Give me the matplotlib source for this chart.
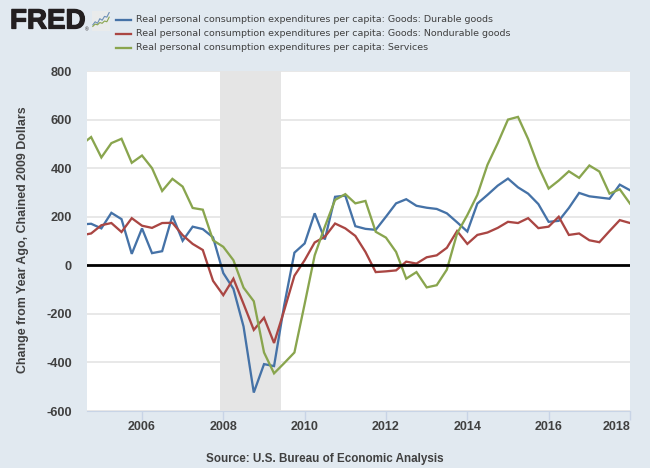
import matplotlib
matplotlib.use("Agg")
import matplotlib.pyplot as plt
import matplotlib.patheffects as pe
import pandas as pd

dates = pd.date_range("2004-07-01", periods=55, freq="QS")
durable = [168, 171, 152, 216, 190, 47, 152, 50, 58, 204, 101, 159, 149, 115, -32, -97, -252, -524, -407, -415,
           -165, 52, 90, 214, 106, 282, 287, 161, 150, 146, 200, 255, 272, 245, 237, 232, 214, 177, 139, 254,
           290, 328, 357, 321, 295, 252, 179, 183, 236, 298, 284, 279, 274, 332, 309]
nondurable = [123, 131, 165, 174, 137, 194, 163, 154, 174, 175, 124, 88, 63, -64, -123, -55, -159, -266, -216, -320,
              -186, -43, 21, 94, 117, 172, 152, 121, 55, -28, -25, -21, 15, 7, 33, 41, 72, 141, 88, 125,
              135, 154, 179, 174, 194, 153, 159, 200, 125, 131, 103, 95, 141, 186, 174]
services = [495, 528, 444, 503, 521, 422, 452, 400, 306, 356, 324, 236, 229, 103, 76, 21, -92, -148, -359, -445,
            -403, -359, -159, 41, 159, 269, 293, 255, 265, 138, 114, 55, -55, -28, -91, -82, -18, 131, 207, 290,
            414, 503, 600, 611, 520, 407, 316, 349, 387, 360, 411, 386, 295, 313, 254]
series_names = ["Real personal consumption expenditures per capita: Goods: Durable goods",
                "Real personal consumption expenditures per capita: Goods: Nondurable goods",
                "Real personal consumption expenditures per capita: Services"]
series_colors = ["#4572a7", "#aa4643", "#89a54e"]
y_ticks = [-600, -400, -200, 0, 200, 400, 600, 800]
x_years = [2006, 2008, 2010, 2012, 2014, 2016, 2018]
rec_start, rec_end = "2007-12-01", "2009-06-01"
icon_a = [1, 3, 2, 5, 4, 6.5, 6, 9]
icon_b = [0, 1.5, 1, 2.5, 2, 3.5, 3, 6]

W, H = 650, 468
BG = "#e1e9f0"
TXT = "#404040"
plt.rcParams["font.family"] = ["Liberation Sans", "DejaVu Sans"]
fig = plt.figure(figsize=(W / 100, H / 100), dpi=100, facecolor=BG)
ax = fig.add_axes([87 / W, 1 - 411 / H, 543 / W, 340 / H], facecolor="white")

ax.axvspan(pd.Timestamp(rec_start), pd.Timestamp(rec_end), color="#e5e5e5", lw=0, zorder=1.5)
ax.axhline(0, color="black", lw=2.0, zorder=4)
for vals, col, z in zip([durable, nondurable, services], series_colors, [3, 3.1, 3.2]):
    ax.plot(dates, vals, color=col, lw=1.65, zorder=z, solid_joinstyle="miter")

ax.set_xlim(pd.Timestamp("2004-08-25"), pd.Timestamp("2018-01-01"))
ax.set_ylim(-600, 800)
ax.set_yticks(y_ticks)
ax.set_yticklabels([str(v) for v in y_ticks], fontsize=9.2, fontweight="bold", color=TXT)
ax.set_xticks([pd.Timestamp(f"{y}-01-01") for y in x_years])
ax.set_xticklabels([str(y) for y in x_years], fontsize=9, fontweight="bold", color=TXT)
ax.get_xticklabels()[-1].set_ha("right")
ax.tick_params(axis="y", length=0, pad=10.8)
ax.tick_params(axis="x", length=6.5, width=1, color="#c8d4e6", pad=0.8)
ax.grid(axis="y", color="#e4e4e4", lw=1.2, zorder=1)
ax.set_axisbelow(True)
for side in ["top", "right", "left"]:
    ax.spines[side].set_visible(False)
ax.spines["bottom"].set_color("#c8d4e6")

fig.text(23 / W, 1 - 239.5 / H, "Change from Year Ago, Chained 2009 Dollars", rotation=90,
         ha="center", va="center", fontsize=8.9, fontweight="bold", color=TXT)
fig.text(324.5 / W, 1 - 459 / H, "Source: U.S. Bureau of Economic Analysis", ha="center", va="center",
         fontsize=8.4, fontweight="bold", color=TXT)

for i, (name, col) in enumerate(zip(series_names, series_colors)):
    yp = 19 + i * 14
    fig.add_artist(plt.Line2D([115.5 / W, 130.5 / W], [1 - (yp + 1) / H] * 2, color=col, lw=1.65))
    fig.text(136 / W, 1 - yp / H, name, ha="left", va="center", fontsize=6.8, color=TXT,
             family=["DejaVu Sans"])

fig.text(10 / W, 1 - 21.5 / H, "FRED", ha="left", va="center", fontsize=20, fontweight="bold", color="#231f20",
         path_effects=[pe.withStroke(linewidth=0.9, foreground="#231f20")])
fig.text(84.5 / W, 1 - 29.5 / H, "®", ha="left", va="center", fontsize=3.5, color="#231f20")
iax = fig.add_axes([92 / W, 1 - 31 / H, 18 / W, 20 / H], facecolor="#e9ebeb")
iax.plot(icon_a, color="#6d8fb5", lw=0.8)
iax.plot(icon_b, color="#89a54e", lw=0.8)
iax.set_ylim(-3, 10)
iax.set_xticks([]); iax.set_yticks([])
for s in iax.spines.values():
    s.set_visible(False)

fig.savefig("out.png", dpi=100, facecolor=BG)
